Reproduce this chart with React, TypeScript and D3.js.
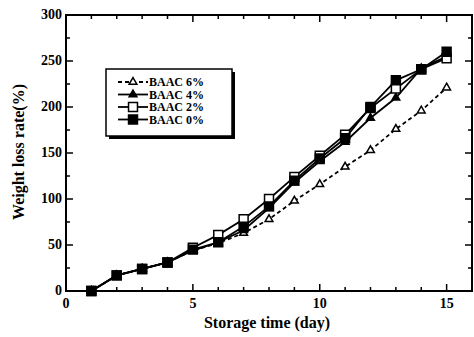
import { useEffect, useRef } from "react";
import * as d3 from "d3";

const days = [1, 2, 3, 4, 5, 6, 7, 8, 9, 10, 11, 12, 13, 14, 15];
const baac6 = [0, 17, 24, 31, 44, 52, 63, 78, 98, 116, 135, 153, 176, 196, 221];
const baac4 = [0, 17, 24, 31, 44, 53, 66, 90, 118, 141, 162, 188, 210, 242, 255];
const baac2 = [0, 17, 24, 31, 47, 61, 78, 100, 124, 147, 170, 199, 220, 241, 253];
const baac0 = [0, 17, 24, 31, 45, 53, 70, 92, 120, 144, 166, 200, 229, 241, 260];
const seriesNames = ["BAAC 6%", "BAAC 4%", "BAAC 2%", "BAAC 0%"];
const xTicks = [0, 5, 10, 15];
const yTicks = [0, 50, 100, 150, 200, 250, 300];

const W = 474;
const H = 337;
const FONT = "'Liberation Serif', 'Times New Roman', serif";

export default function App() {
  const ref = useRef<SVGSVGElement>(null);

  useEffect(() => {
    const svg = d3.select(ref.current);
    svg.selectAll("*").remove();

    const x = d3.scaleLinear().domain([0, 16]).range([66, 472]);
    const y = d3.scaleLinear().domain([0, 300]).range([291, 15]);

    // frame
    svg.append("rect")
      .attr("x", 66).attr("y", 15)
      .attr("width", 472 - 66).attr("height", 291 - 15)
      .attr("fill", "none").attr("stroke", "#000").attr("stroke-width", 2);

    // ticks pointing inward, mirrored on top and right
    const tk = svg.append("g").attr("stroke", "#000").attr("stroke-width", 1.5);
    d3.range(1, 16).forEach((d) => {
      const len = d % 5 === 0 ? 7 : 4;
      tk.append("line").attr("x1", x(d)).attr("x2", x(d)).attr("y1", y(0)).attr("y2", y(0) - len);
      tk.append("line").attr("x1", x(d)).attr("x2", x(d)).attr("y1", y(300)).attr("y2", y(300) + len);
    });
    d3.range(25, 300, 25).forEach((d) => {
      const len = d % 50 === 0 ? 7 : 4;
      tk.append("line").attr("x1", x(0)).attr("x2", x(0) + len).attr("y1", y(d)).attr("y2", y(d));
      tk.append("line").attr("x1", x(16)).attr("x2", x(16) - len).attr("y1", y(d)).attr("y2", y(d));
    });

    // tick labels
    svg.append("g")
      .selectAll("text")
      .data(xTicks)
      .join("text")
      .attr("x", (d) => x(d))
      .attr("y", 308)
      .attr("text-anchor", "middle")
      .attr("font-family", FONT)
      .attr("font-weight", "bold")
      .attr("font-size", 14)
      .text((d) => d);
    svg.append("g")
      .selectAll("text")
      .data(yTicks)
      .join("text")
      .attr("x", 62)
      .attr("y", (d) => y(d) + 4)
      .attr("text-anchor", "end")
      .attr("font-family", FONT)
      .attr("font-weight", "bold")
      .attr("font-size", 14)
      .text((d) => d);

    // axis titles
    svg.append("text")
      .attr("x", 267).attr("y", 328)
      .attr("text-anchor", "middle")
      .attr("font-family", FONT).attr("font-weight", "bold").attr("font-size", 16)
      .text("Storage time (day)");
    svg.append("text")
      .attr("transform", "translate(24,152) rotate(-90)")
      .attr("text-anchor", "middle")
      .attr("font-family", FONT).attr("font-weight", "bold").attr("font-size", 16)
      .text("Weight loss rate(%)");

    const line = d3.line<number>().x((_, i) => x(days[i])).y((d) => y(d));
    const series = [
      { vals: baac6, dash: "4,3", marker: "tri", fill: "#fff" },
      { vals: baac4, dash: null, marker: "tri", fill: "#000" },
      { vals: baac2, dash: null, marker: "sq", fill: "#fff" },
      { vals: baac0, dash: null, marker: "sq", fill: "#000" },
    ];

    const tri = d3.symbol().type(d3.symbolTriangle).size(26);
    const sq = d3.symbol().type(d3.symbolSquare).size(80);

    series.forEach((s) => {
      svg.append("path")
        .attr("d", line(s.vals))
        .attr("fill", "none")
        .attr("stroke", "#000")
        .attr("stroke-width", 1.8)
        .attr("stroke-dasharray", s.dash);
      svg.append("g")
        .selectAll("path")
        .data(s.vals)
        .join("path")
        .attr("transform", (d, i) => `translate(${x(days[i])},${y(d)})`)
        .attr("d", s.marker === "tri" ? tri() : sq())
        .attr("fill", s.fill)
        .attr("stroke", "#000")
        .attr("stroke-width", 1.5);
    });

    // legend with drop shadow
    const lg = svg.append("g");
    lg.append("rect").attr("x", 109).attr("y", 72).attr("width", 126).attr("height", 67).attr("fill", "#000");
    lg.append("rect").attr("x", 106).attr("y", 69).attr("width", 126).attr("height", 67)
      .attr("fill", "#fff").attr("stroke", "#000").attr("stroke-width", 1.5);
    seriesNames.forEach((name, i) => {
      const s = series[i];
      const ly = 82 + i * 12.5;
      lg.append("line").attr("x1", 118).attr("x2", 148).attr("y1", ly).attr("y2", ly)
        .attr("stroke", "#000").attr("stroke-width", 1.8).attr("stroke-dasharray", s.dash);
      lg.append("path")
        .attr("transform", `translate(133,${ly})`)
        .attr("d", s.marker === "tri" ? tri() : sq())
        .attr("fill", s.fill).attr("stroke", "#000").attr("stroke-width", 1.5);
      lg.append("text")
        .attr("x", 149).attr("y", ly + 4)
        .attr("font-family", FONT).attr("font-weight", "bold").attr("font-size", 12)
        .text(name);
    });
  }, []);

  return (
    <svg ref={ref} width={W} height={H} style={{ position: "absolute", left: 0, top: 0, background: "#fff" }} />
  );
}
